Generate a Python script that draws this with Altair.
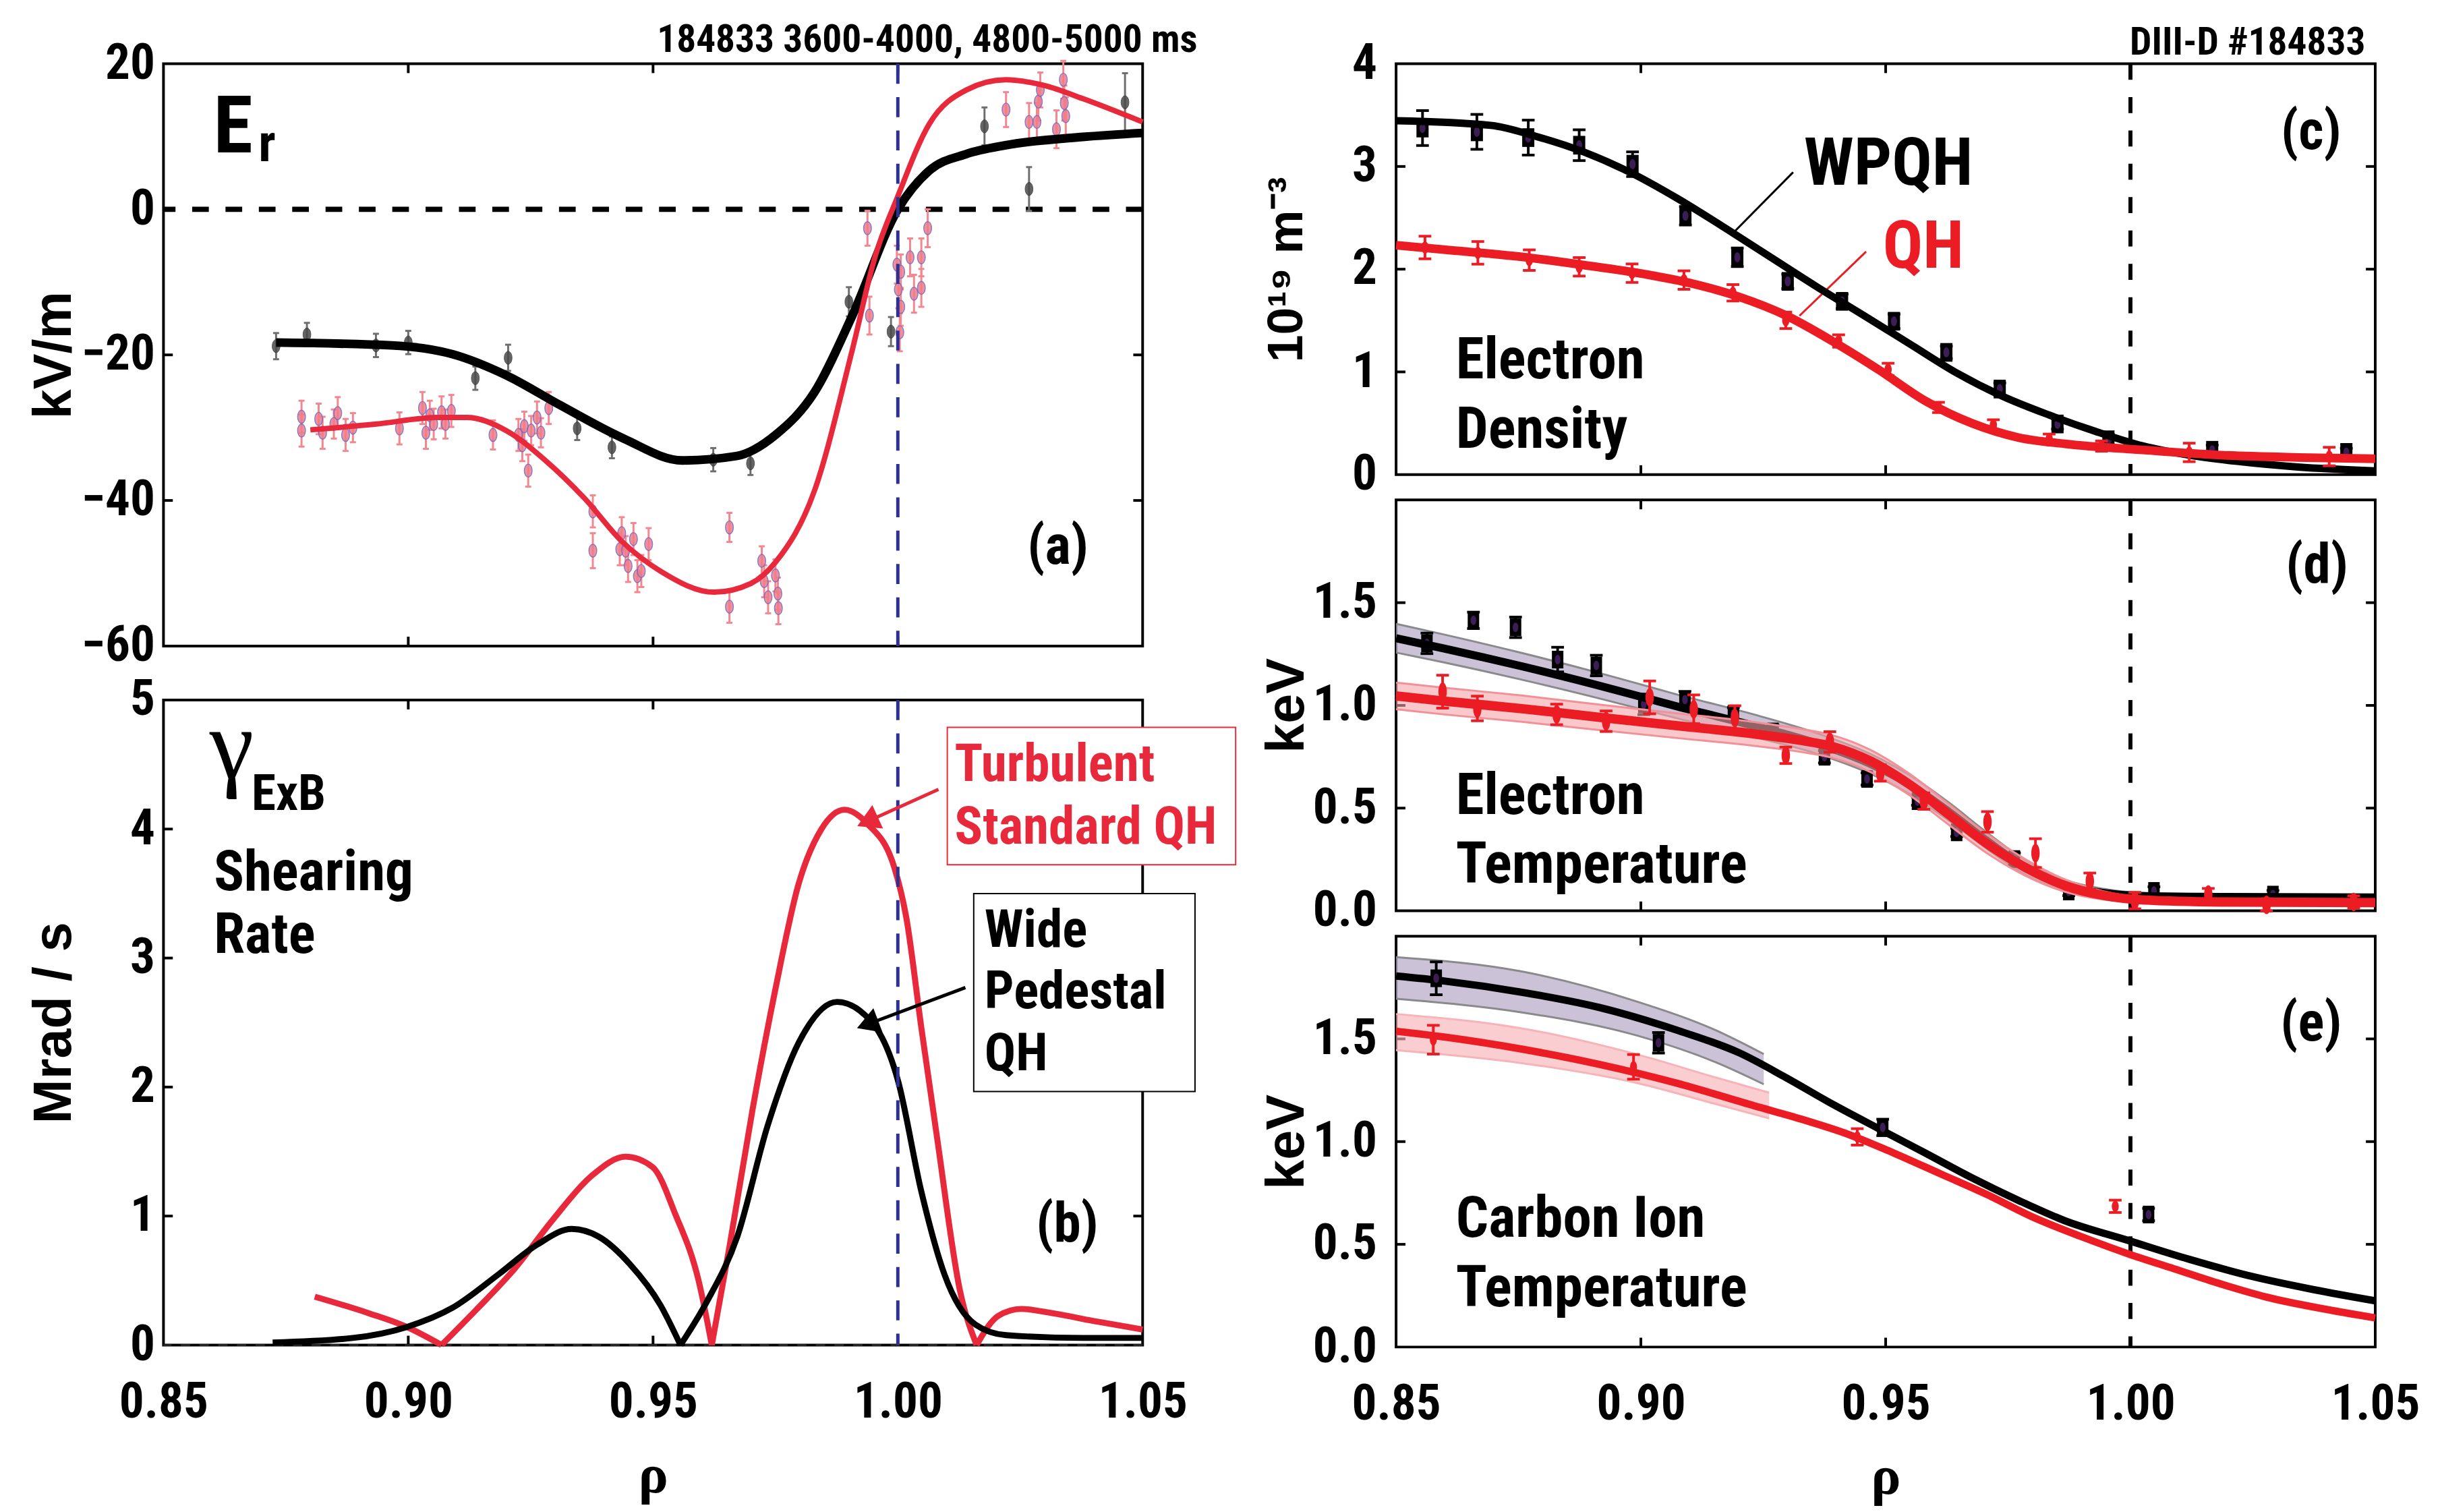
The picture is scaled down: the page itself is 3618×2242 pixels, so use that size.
import altair as alt
import pandas as pd

NARROW = "Roboto Condensed, Liberation Sans Narrow, Roboto, sans-serif"
WIDE = "Liberation Sans, Arial, sans-serif"
SERIF = "Liberation Serif, DejaVu Serif, serif"
RED = "#ec1c24"
RED_A = "#e8293b"
BLUE = "#2e3192"

X_DOMAIN = [0.85, 1.05]
X_TICKS = [0.85, 0.90, 0.95, 1.00, 1.05]
INNER_X_TICKS = [0.90, 0.95, 1.00]
VLINE = [1.0]
ZERO = [0.0]

# ---------------- (a) Er ----------------
ER_W_X = [0.873, 0.8966, 0.909, 0.920, 0.931, 0.944, 0.956, 0.967, 0.975, 0.983, 0.9907, 1.000, 1.0064, 1.014, 1.022, 1.0378, 1.050]
ER_W_Y = [-18.3, -18.7, -19.9, -22.8, -26.9, -31.5, -34.5, -33.9, -31.0, -25.1, -14.6, 0.0, 5.3, 7.6, 8.8, 9.95, 10.5]
ER_Q_X = [0.880, 0.8935, 0.906, 0.912, 0.920, 0.928, 0.936, 0.9436, 0.9515, 0.9625, 0.970, 0.975, 0.983, 0.9907, 0.9954, 1.000, 1.0064, 1.014, 1.022, 1.030, 1.0378, 1.050]
ER_Q_Y = [-30.3, -29.5, -28.6, -28.6, -30.4, -34.5, -39.7, -45.6, -49.7, -52.6, -51.4, -48.5, -38.6, -19.3, -6.4, 1.8, 11.7, 16.4, 17.8, 17.0, 15.2, 12.0]
ER_W_PX = [0.873, 0.8793, 0.8934, 0.900, 0.9137, 0.9204, 0.9345, 0.9416, 0.9623, 0.9699, 0.990, 0.9986, 1.0177, 1.0268, 1.0464]
ER_W_PY = [-18.8, -17.2, -18.7, -18.3, -23.2, -20.4, -30.1, -32.7, -34.4, -34.9, -12.7, -16.8, 11.4, 2.8, 14.7]
ER_W_PE = [1.8, 1.6, 1.6, 1.6, 1.6, 1.8, 1.6, 1.5, 1.6, 1.6, 2.0, 2.0, 2.6, 3.0, 4.0]
ER_Q_PX = [0.8782, 0.8782, 0.8817, 0.8825, 0.8848, 0.8856, 0.8872, 0.8887, 0.8982, 0.9029, 0.9036, 0.9044, 0.9052, 0.9068, 0.9076, 0.9088,
           0.9173, 0.9225, 0.9233, 0.9237, 0.9245, 0.9251, 0.9263, 0.9271, 0.9287, 0.9377, 0.9377, 0.9432, 0.9436, 0.9444, 0.9449, 0.9460,
           0.9468, 0.9476, 0.9491, 0.9656, 0.9656, 0.9722, 0.9727, 0.9735, 0.9750, 0.9755, 0.9756, 0.9938, 0.9942, 0.9998, 1.0006, 1.0001,
           1.0006, 1.0004, 1.0025, 1.0033, 1.0048, 1.0048, 1.0061, 1.0221, 1.0268, 1.0284, 1.0287, 1.0291, 1.0324, 1.0338, 1.0340, 1.0343]
ER_Q_PY = [-28.5, -30.4, -28.8, -30.7, -29.5, -28.0, -31.0, -30.0, -30.1, -27.3, -30.7, -28.3, -29.5, -27.9, -29.5, -27.7,
           -31.0, -31.0, -32.4, -29.8, -35.9, -30.4, -28.6, -30.7, -27.3, -41.5, -46.9, -46.7, -44.5, -46.9, -49.0, -45.3,
           -50.4, -49.7, -46.0, -43.7, -54.6, -48.3, -51.1, -53.3, -50.3, -52.8, -54.8, -2.6, -14.6, -7.6, -8.6, -11.0,
           -13.4, -16.9, -6.6, -11.6, -6.6, -10.8, -2.6, 13.7, 12.0, 12.0, 14.8, 16.4, 11.0, 17.8, 14.6, 12.8]
ER_Q_PE = [2.2, 2.2, 2.1, 2.2, 2.0, 2.2, 2.2, 2.0, 2.2, 2.2, 2.2, 2.0, 2.1, 2.2, 2.0, 2.2,
           2.0, 2.2, 2.2, 2.0, 2.2, 2.0, 2.2, 2.0, 2.2, 2.2, 2.4, 2.2, 2.2, 2.0, 2.2, 2.2,
           2.2, 2.2, 2.2, 2.0, 2.2, 2.0, 2.2, 2.2, 2.2, 2.2, 2.2, 2.4, 2.6, 2.6, 2.4, 2.6,
           2.6, 2.6, 2.6, 2.6, 2.6, 2.6, 2.6, 2.4, 2.6, 2.6, 2.6, 2.4, 2.6, 2.6, 2.4, 2.6]

# ---------------- (b) gamma ExB ----------------
G_W_X = [0.8723, 0.8887, 0.8997, 0.9091, 0.9185, 0.9264, 0.9334, 0.9389, 0.9452, 0.9515, 0.9556, 0.9609, 0.9672, 0.9734, 0.9797, 0.9876,
         0.9923, 1.0001, 1.0048, 1.0095, 1.0158, 1.0221, 1.0378, 1.05]
G_W_Y = [0.02, 0.055, 0.14, 0.29, 0.55, 0.78, 0.90, 0.84, 0.63, 0.31, 0.0, 0.33, 0.84, 1.70, 2.34, 2.66,
         2.59, 2.04, 1.19, 0.55, 0.16, 0.077, 0.055, 0.055]
G_Q_X = [0.8809, 0.8919, 0.8997, 0.9068, 0.9138, 0.9217, 0.9295, 0.9374, 0.9444, 0.9499, 0.9546, 0.9593, 0.9620, 0.9656, 0.9703, 0.9750,
         0.9797, 0.9844, 0.9891, 0.9938, 0.9993, 1.0017, 1.0048, 1.0080, 1.0127, 1.0161, 1.0205, 1.0252, 1.0315, 1.0409, 1.05]
G_Q_Y = [0.375, 0.247, 0.14, 0.0, 0.27, 0.59, 0.97, 1.31, 1.46, 1.38, 1.01, 0.50, 0.0, 0.76, 1.82, 2.76,
         3.57, 4.0, 4.15, 4.04, 3.70, 3.32, 2.46, 1.61, 0.42, 0.0, 0.226, 0.28, 0.247, 0.18, 0.12]

# ---------------- (c) ne ----------------
NE_W_X = [0.85, 0.8693, 0.8788, 0.8884, 0.8979, 0.9074, 0.9169, 0.9264, 0.9359, 0.9455, 0.9550, 0.9645, 0.9740, 0.9834, 0.9929, 1.0025, 1.0120, 1.0215, 1.0342, 1.05]
NE_W_Y = [3.445, 3.40, 3.29, 3.14, 2.94, 2.69, 2.41, 2.12, 1.83, 1.55, 1.27, 0.99, 0.76, 0.58, 0.42, 0.28, 0.19, 0.13, 0.074, 0.037]
NE_Q_X = [0.85, 0.8598, 0.8757, 0.8884, 0.9010, 0.9105, 0.9201, 0.9296, 0.9391, 0.9486, 0.9582, 0.9676, 0.9772, 0.9866, 1.0025, 1.0183, 1.0342, 1.05]
NE_Q_Y = [2.233, 2.19, 2.12, 2.04, 1.95, 1.86, 1.73, 1.55, 1.30, 1.02, 0.715, 0.50, 0.36, 0.30, 0.24, 0.19, 0.167, 0.154]
NE_W_PX = [0.8554, 0.8665, 0.8770, 0.8874, 0.8983, 0.9091, 0.9197, 0.9300, 0.9411, 0.9517, 0.9624, 0.9733, 0.9851, 0.9955, 1.0167, 1.0441]
NE_W_PY = [3.374, 3.337, 3.281, 3.207, 3.022, 2.520, 2.116, 1.881, 1.687, 1.493, 1.190, 0.833, 0.493, 0.339, 0.237, 0.216]
NE_W_PE = [0.17, 0.17, 0.17, 0.15, 0.12, 0.09, 0.09, 0.07, 0.07, 0.07, 0.06, 0.06, 0.05, 0.05, 0.05, 0.04]
NE_Q_PX = [0.8559, 0.8667, 0.8772, 0.8874, 0.8982, 0.9088, 0.9188, 0.9296, 0.9404, 0.9505, 0.9608, 0.9720, 0.9834, 0.9941, 1.0120, 1.0406]
NE_Q_PY = [2.211, 2.159, 2.088, 2.023, 1.961, 1.894, 1.770, 1.502, 1.301, 1.024, 0.654, 0.484, 0.345, 0.278, 0.216, 0.176]
NE_Q_PE = [0.11, 0.11, 0.10, 0.09, 0.09, 0.09, 0.08, 0.08, 0.06, 0.06, 0.05, 0.05, 0.05, 0.05, 0.09, 0.09]

# ---------------- (d) Te ----------------
TE_W_X = [0.85, 0.8598, 0.8757, 0.8915, 0.9074, 0.9232, 0.9359, 0.9470, 0.9550, 0.9629, 0.9708, 0.9787, 0.9866, 0.9945, 1.0025, 1.0183, 1.05]
TE_W_Y = [1.327, 1.277, 1.190, 1.096, 0.995, 0.900, 0.815, 0.714, 0.613, 0.483, 0.339, 0.209, 0.123, 0.087, 0.072, 0.068, 0.065]
TE_W_HW = [0.07, 0.068, 0.065, 0.062, 0.058, 0.055, 0.05, 0.048, 0.046, 0.044, 0.04, 0.035, 0.028, 0.02, 0.015, 0.012, 0.012]
TE_Q_X = [0.85, 0.8598, 0.8757, 0.8915, 0.9074, 0.9232, 0.9328, 0.9391, 0.9470, 0.9550, 0.9629, 0.9708, 0.9787, 0.9866, 0.9945, 1.0025, 1.0183, 1.05]
TE_Q_Y = [1.046, 1.021, 0.984, 0.942, 0.901, 0.861, 0.829, 0.80, 0.728, 0.613, 0.469, 0.325, 0.209, 0.123, 0.075, 0.053, 0.043, 0.040]
TE_Q_HW = [0.065, 0.065, 0.064, 0.062, 0.06, 0.058, 0.056, 0.055, 0.054, 0.052, 0.05, 0.046, 0.04, 0.03, 0.02, 0.012, 0.01, 0.01]
TE_W_PX = [0.8563, 0.8658, 0.8744, 0.8830, 0.8909, 0.9006, 0.9090, 0.9189, 0.9270, 0.9375, 0.9462, 0.9565, 0.9645, 0.9763, 0.9874, 1.0048, 1.0291]
TE_W_PY = [1.302, 1.414, 1.380, 1.223, 1.194, 1.005, 1.028, 0.959, 0.873, 0.750, 0.642, 0.534, 0.382, 0.252, 0.094, 0.097, 0.079]
TE_W_PE = [0.05, 0.04, 0.05, 0.06, 0.05, 0.05, 0.04, 0.03, 0.03, 0.03, 0.03, 0.02, 0.02, 0.03, 0.02, 0.02, 0.02]
TE_Q_PX = [0.8595, 0.8666, 0.8828, 0.8929, 0.9018, 0.9108, 0.9192, 0.9296, 0.9386, 0.9489, 0.9578, 0.9708, 0.9806, 0.9917, 1.0009, 1.0159, 1.0278, 1.0456]
TE_Q_PY = [1.067, 0.985, 0.956, 0.923, 1.039, 0.981, 0.938, 0.757, 0.822, 0.671, 0.534, 0.433, 0.281, 0.144, 0.050, 0.079, 0.029, 0.043]
TE_Q_PE = [0.08, 0.06, 0.05, 0.05, 0.08, 0.07, 0.06, 0.04, 0.05, 0.04, 0.04, 0.05, 0.07, 0.04, 0.04, 0.03, 0.03, 0.03]

# ---------------- (e) Ti ----------------
TI_W_X = [0.85, 0.8598, 0.8757, 0.8915, 0.9074, 0.9201, 0.9296, 0.9391, 0.9486, 0.9582, 0.9676, 0.9772, 0.9866, 0.9994, 1.0120, 1.0246, 1.0373, 1.05]
TI_W_Y = [1.806, 1.782, 1.727, 1.653, 1.542, 1.432, 1.312, 1.183, 1.063, 0.943, 0.824, 0.713, 0.615, 0.520, 0.427, 0.345, 0.28, 0.225]
TI_Q_X = [0.85, 0.8598, 0.8757, 0.8915, 0.9074, 0.9232, 0.9328, 0.9423, 0.9518, 0.9613, 0.9708, 0.9803, 0.9899, 0.9994, 1.0089, 1.0183, 1.0278, 1.0389, 1.05]
TI_Q_Y = [1.537, 1.509, 1.450, 1.376, 1.284, 1.174, 1.109, 1.036, 0.943, 0.842, 0.741, 0.630, 0.538, 0.455, 0.381, 0.308, 0.243, 0.188, 0.142]
TI_W_BX = [0.85, 0.8757, 0.8994, 0.9153, 0.9251]
TI_W_BU = [1.898, 1.828, 1.680, 1.542, 1.426]
TI_W_BL = [1.695, 1.629, 1.515, 1.386, 1.279]
TI_Q_BX = [0.85, 0.8757, 0.8994, 0.9153, 0.9262]
TI_Q_BU = [1.621, 1.551, 1.423, 1.312, 1.238]
TI_Q_BL = [1.445, 1.382, 1.284, 1.183, 1.113]
TI_W_PX = [0.8582, 0.9036, 0.9494, 1.0037]
TI_W_PY = [1.795, 1.481, 1.069, 0.645]
TI_W_PE = [0.08, 0.05, 0.04, 0.03]
TI_Q_PX = [0.8576, 0.8985, 0.9442, 0.9969]
TI_Q_PY = [1.496, 1.364, 1.023, 0.685]
TI_Q_PE = [0.07, 0.06, 0.04, 0.03]

ELLIPSE = "M0,-1C0.33,-1 0.6,-0.55 0.6,0C0.6,0.55 0.33,1 0,1C-0.33,1 -0.6,0.55 -0.6,0C-0.6,-0.55 -0.33,-1 0,-1Z"
NARROW_ELL = "M0,-1C0.25,-1 0.45,-0.55 0.45,0C0.45,0.55 0.25,1 0,1C-0.25,1 -0.45,0.55 -0.45,0C-0.45,-0.55 -0.25,-1 0,-1Z"
RECT = "M-0.65,-1L0.65,-1L0.65,1L-0.65,1Z"

TICK_FS = 74


class Panel:
    def __init__(self, W, H, ydom, yvals, yfmt, ytitle, ypad, show_x, inner_y, title_font=WIDE, title_size=80):
        self.W, self.H = W, H
        self.ydom = ydom
        self.inner_y = inner_y
        self.layers = []
        if show_x:
            self.xaxis = alt.Axis(values=X_TICKS, format=".2f", labelFont=NARROW, labelFontSize=TICK_FS, labelFontWeight="bold",
                                  labelColor="black", labelPadding=50, labelFlush=False, labelOverlap=False, tickSize=0,
                                  domain=False, grid=False, title="ρ", titleFont=SERIF, titleFontSize=84,
                                  titleFontWeight="bold", titleY=195, titleBaseline="middle", titleColor="black")
        else:
            self.xaxis = None
        self.yaxis = alt.Axis(values=yvals, format=yfmt, labelFont=NARROW, labelFontSize=TICK_FS, labelFontWeight="bold",
                              labelColor="black", labelPadding=ypad, labelOverlap=False, labelFlush=False, tickSize=0,
                              domain=False, grid=False, title=ytitle, titleFont=title_font, titleFontSize=title_size,
                              titleFontWeight="bold", titleAngle=270, titleX=-163, titleY=H / 2, titleAlign="center",
                              titleBaseline="middle", titleColor="black")
        self._ticks()

    def x(self):
        return alt.X("x:Q", scale=alt.Scale(domain=X_DOMAIN, nice=False, zero=False), axis=self.xaxis)

    def y(self):
        return alt.Y("y:Q", scale=alt.Scale(domain=self.ydom, nice=False, zero=False), axis=self.yaxis)

    def _ticks(self):
        TL = 14
        dfx = pd.DataFrame({"x": INNER_X_TICKS})
        dfy = pd.DataFrame({"y": self.inner_y})
        W, H = self.W, self.H
        self.layers.append(alt.Chart(dfx).mark_rule(color="black", strokeWidth=4).encode(
            x=self.x(), y=alt.value(0), y2=alt.value(TL)))
        self.layers.append(alt.Chart(dfx).mark_rule(color="black", strokeWidth=4).encode(
            x=self.x(), y=alt.value(H), y2=alt.value(H - TL)))
        self.layers.append(alt.Chart(dfy).mark_rule(color="black", strokeWidth=4).encode(
            y=self.y(), x=alt.value(0), x2=alt.value(TL)))
        self.layers.append(alt.Chart(dfy).mark_rule(color="black", strokeWidth=4).encode(
            y=self.y(), x=alt.value(W - TL), x2=alt.value(W)))

    def line(self, xs, ys, color, width, interp="monotone", dash=None, split_zero=False, opacity=1.0):
        rows = []
        seg = 0
        for xv, yv in zip(xs, ys):
            rows.append({"x": xv, "y": yv, "s": seg})
            if split_zero and yv == 0.0:
                seg += 1
                rows.append({"x": xv, "y": yv, "s": seg})
        df = pd.DataFrame(rows)
        kw = dict(color=color, strokeWidth=width, interpolate=interp, opacity=opacity)
        if dash:
            kw["strokeDash"] = dash
        self.layers.append(alt.Chart(df).mark_line(**kw).encode(x=self.x(), y=self.y(), detail="s:N"))

    def band(self, xs, lo, hi, fill, edge, opacity, edge_w=3):
        df = pd.DataFrame({"x": xs, "y": lo, "y2": hi})
        self.layers.append(alt.Chart(df).mark_area(color=fill, opacity=opacity, interpolate="monotone").encode(
            x=self.x(), y=self.y(), y2=alt.Y2("y2:Q")))
        self.line(xs, lo, edge, edge_w)
        self.line(xs, hi, edge, edge_w)

    def errbars(self, xs, ys, es, color, width, cap=None, opacity=1.0):
        df = pd.DataFrame({"x": xs, "y": [a - b for a, b in zip(ys, es)], "y2": [a + b for a, b in zip(ys, es)]})
        self.layers.append(alt.Chart(df).mark_rule(color=color, strokeWidth=width, opacity=opacity).encode(
            x=self.x(), y=self.y(), y2=alt.Y2("y2:Q")))
        if cap:
            cdf = pd.DataFrame({"x": list(xs) + list(xs), "y": list(df["y"]) + list(df["y2"])})
            self.layers.append(alt.Chart(cdf).mark_tick(orient="horizontal", size=cap, thickness=width, color=color,
                                                        opacity=opacity).encode(x=self.x(), y=self.y()))

    def points(self, xs, ys, shape, size, fill, stroke=None, sw=0, opacity=1.0):
        df = pd.DataFrame({"x": xs, "y": ys})
        kw = dict(shape=shape, size=size, filled=True, fill=fill, opacity=opacity)
        if stroke:
            kw["stroke"] = stroke
            kw["strokeWidth"] = sw
        else:
            kw["strokeWidth"] = 0
        self.layers.append(alt.Chart(df).mark_point(**kw).encode(x=self.x(), y=self.y()))

    def vline(self, color, width, dash):
        df = pd.DataFrame({"x": VLINE})
        self.layers.append(alt.Chart(df).mark_rule(color=color, strokeWidth=width, strokeDash=dash).encode(x=self.x()))

    def hline(self, color, width, dash):
        df = pd.DataFrame({"y": ZERO})
        self.layers.append(alt.Chart(df).mark_rule(color=color, strokeWidth=width, strokeDash=dash).encode(y=self.y()))

    def text(self, xs, ys, texts, size, color="black", font=NARROW, weight="bold", align="left", baseline="alphabetic"):
        df = pd.DataFrame({"x": xs, "y": ys, "t": texts})
        self.layers.append(alt.Chart(df).mark_text(font=font, fontSize=size, fontWeight=weight, color=color,
                                                   align=align, baseline=baseline).encode(
            x=self.x(), y=self.y(), text="t:N"))

    def box(self, x1, x2, y1, y2, stroke, sw):
        df = pd.DataFrame({"x": [x1], "x2": [x2], "y": [y1], "y2": [y2]})
        self.layers.append(alt.Chart(df).mark_rect(fill="white", stroke=stroke, strokeWidth=sw).encode(
            x=self.x(), x2=alt.X2("x2:Q"), y=self.y(), y2=alt.Y2("y2:Q")))

    def arrow(self, xs, ys, color, width, angle, size):
        self.line(xs, ys, color, width, interp="linear")
        df = pd.DataFrame({"x": [xs[-1]], "y": [ys[-1]]})
        self.layers.append(alt.Chart(df).mark_point(shape="triangle-up", size=size, filled=True, fill=color,
                                                    strokeWidth=0, angle=angle, opacity=1).encode(x=self.x(), y=self.y()))

    def chart(self):
        return alt.layer(*self.layers).properties(width=self.W, height=self.H)


W_L, W_R = 1468, 1468
H_A, H_B, H_R = 873, 967, 616

# ---- panel (a)
pa = Panel(W_L, H_A, [-60, 20], [-60, -40, -20, 0, 20], "d", "kV/m", 13, False, [-40, -20])
pa.hline("black", 8, [25, 25])
pa.errbars(ER_Q_PX, ER_Q_PY, ER_Q_PE, "#f4868f", 3, cap=9)
pa.points(ER_Q_PX, ER_Q_PY, ELLIPSE, 380, "#f07c8a", stroke="#7468c0", sw=1.5, opacity=0.85)
pa.errbars(ER_W_PX, ER_W_PY, ER_W_PE, "#6e6e6e", 3, cap=9)
pa.points(ER_W_PX, ER_W_PY, ELLIPSE, 380, "#4a4a4a", stroke="#333333", sw=1, opacity=0.85)
pa.line(ER_W_X, ER_W_Y, "black", 13)
pa.line(ER_Q_X, ER_Q_Y, RED_A, 8)
pa.vline(BLUE, 5, [30, 20])
pa.text([0.8602], [7.81], ["E"], 120)
pa.text([0.8694], [6.62], ["r"], 78)
pa.text([1.0327], [-46.4], ["(a)"], 82, align="center", baseline="middle")
pa.text([1.0612], [21.65], ["184833 3600-4000, 4800-5000 ms"], 58, align="right")

# ---- panel (b)
pb = Panel(W_L, H_B, [0, 5], [0, 1, 2, 3, 4, 5], "d", "Mrad / s", 13, True, [1, 2, 3, 4])
pb.hline("#333333", 2, [14, 14])
pb.line(G_Q_X, G_Q_Y, RED_A, 9, split_zero=True)
pb.line(G_W_X, G_W_Y, "black", 9, split_zero=True)
pb.vline(BLUE, 5, [30, 20])
pb.arrow([1.0083, 0.9938], [4.307, 4.059], RED_A, 5, 245.6, 1500)
pb.arrow([1.0138, 0.9938], [2.771, 2.487], "black", 5, 249.4, 1500)
pb.box(1.0101, 1.0690, 4.788, 3.723, RED_A, 2)
pb.box(1.0155, 1.0607, 3.50, 1.965, "black", 2)
pb.text([1.0116, 1.0116], [4.374, 3.888], ["Turbulent", "Standard QH"], 78, color=RED_A)
pb.text([1.0177, 1.0177, 1.0177], [3.087, 2.611, 2.130], ["Wide", "Pedestal", "QH"], 78)
pb.text([0.8594], [4.40], ["γ"], 150, font=SERIF, weight="normal")
pb.text([0.868], [4.147], ["ExB"], 74)
pb.text([0.8603, 0.8603], [3.526, 3.04], ["Shearing", "Rate"], 84)
pb.text([1.0346], [0.93], ["(b)"], 82, align="center", baseline="middle")

# ---- panel (c)
pc = Panel(W_R, H_R, [0, 4], [0, 1, 2, 3, 4], "d", "10¹⁹ m⁻³", 29, False, [1, 2, 3], title_size=74)
pc.vline("black", 6, [24, 26])
pc.line([0.9311, 0.9188], [2.944, 2.351], "black", 3, interp="linear")
pc.line([0.9460, 0.9324], [2.171, 1.546], RED, 3, interp="linear")
pc.errbars(NE_W_PX, NE_W_PY, NE_W_PE, "black", 4, cap=19)
pc.points(NE_W_PX, NE_W_PY, RECT, 784, "black")
pc.points(NE_W_PX, NE_W_PY, ELLIPSE, 225, "#3c1d55")
pc.line(NE_W_X, NE_W_Y, "black", 11)
pc.errbars(NE_Q_PX, NE_Q_PY, NE_Q_PE, RED, 4, cap=19)
pc.line(NE_Q_X, NE_Q_Y, RED, 13)
pc.points(NE_Q_PX, NE_Q_PY, ELLIPSE, 324, RED)
pc.text([0.9333], [2.82], ["WPQH"], 100)
pc.text([0.9494], [2.016], ["QH"], 100, color=RED)
pc.text([0.8622, 0.8622], [0.934, 0.258], ["Electron", "Density"], 86)
pc.text([1.0369], [3.33], ["(c)"], 82, align="center", baseline="middle")
pc.text([1.048], [4.09], ["DIII-D #184833"], 58, align="right")

# ---- panel (d)
pdn = Panel(W_R, H_R, [0, 2], [0, 0.5, 1.0, 1.5], ".1f", "keV", 29, False, [0.5, 1.0, 1.5])
pdn.vline("black", 6, [24, 26])
pdn.band(TE_W_X, [a - b for a, b in zip(TE_W_Y, TE_W_HW)], [a + b for a, b in zip(TE_W_Y, TE_W_HW)],
         "#b9aecb", "#8a8a8a", 0.75)
pdn.errbars(TE_W_PX, TE_W_PY, TE_W_PE, "black", 4, cap=19)
pdn.points(TE_W_PX, TE_W_PY, RECT, 700, "black")
pdn.points(TE_W_PX, TE_W_PY, ELLIPSE, 200, "#3c1d55")
pdn.line(TE_W_X, TE_W_Y, "black", 12)
pdn.band(TE_Q_X, [a - b for a, b in zip(TE_Q_Y, TE_Q_HW)], [a + b for a, b in zip(TE_Q_Y, TE_Q_HW)],
         "#f4a3a8", "#f39097", 0.6)
pdn.line(TE_Q_X, TE_Q_Y, RED, 14)
pdn.errbars(TE_Q_PX, TE_Q_PY, TE_Q_PE, RED, 4, cap=19)
pdn.points(TE_Q_PX, TE_Q_PY, NARROW_ELL, 784, RED)
pdn.text([0.8622, 0.8622], [0.472, 0.136], ["Electron", "Temperature"], 86)
pdn.text([1.0381], [1.68], ["(d)"], 82, align="center", baseline="middle")

# ---- panel (e)
pe = Panel(W_R, H_R, [0, 2], [0, 0.5, 1.0, 1.5], ".1f", "keV", 29, True, [0.5, 1.0, 1.5])
pe.vline("black", 6, [24, 26])
pe.band(TI_W_BX, TI_W_BL, TI_W_BU, "#b9aecb", "#8a8a8a", 0.75)
pe.band(TI_Q_BX, TI_Q_BL, TI_Q_BU, "#f7b3b7", "#f7b3b7", 0.65)
pe.line(TI_W_X, TI_W_Y, "black", 11)
pe.line(TI_Q_X, TI_Q_Y, RED, 11)
pe.errbars(TI_W_PX, TI_W_PY, TI_W_PE, "black", 4, cap=19)
pe.points(TI_W_PX, TI_W_PY, RECT, 700, "black")
pe.points(TI_W_PX, TI_W_PY, ELLIPSE, 200, "#3c1d55")
pe.errbars(TI_Q_PX, TI_Q_PY, TI_Q_PE, RED, 4, cap=19)
pe.points(TI_Q_PX, TI_Q_PY, ELLIPSE, 300, RED)
pe.text([0.8622, 0.8622], [0.538, 0.198], ["Carbon Ion", "Temperature"], 86)
pe.text([1.0369], [1.572], ["(e)"], 82, align="center", baseline="middle")

left = alt.vconcat(pa.chart(), pb.chart(), spacing=81, bounds="flush")
right = alt.vconcat(pc.chart(), pdn.chart(), pe.chart(), spacing=38, bounds="flush")
chart = alt.hconcat(left, right, spacing=32, bounds="full").properties(
    padding={"left": 32, "top": 8, "right": 20, "bottom": 10}
).configure(background="white").configure_view(stroke="black", strokeWidth=4)

chart.save("out.html", embed_options={"renderer": "svg", "actions": False})
